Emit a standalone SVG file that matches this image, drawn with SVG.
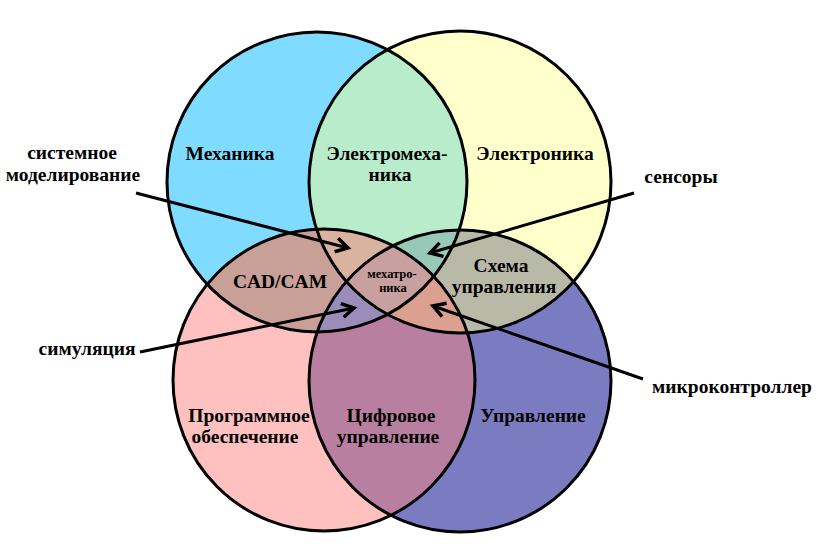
<svg xmlns="http://www.w3.org/2000/svg" width="819" height="547" viewBox="0 0 819 547">
<style>
.lbl{font-family:"Liberation Serif","Times New Roman",serif;font-weight:bold;font-size:19.5px;fill:#000;text-anchor:middle}
.sm{font-size:12.5px}
.ring{fill:none;stroke:#000;stroke-width:3}
.conn{fill:none;stroke:#000;stroke-width:3}
</style>
<defs>
<clipPath id="cB"><circle cx="317" cy="182" r="150"/></clipPath>
<clipPath id="cY"><circle cx="460" cy="182" r="151"/></clipPath>
<clipPath id="cK"><circle cx="324" cy="380" r="151"/></clipPath>
<clipPath id="cU"><circle cx="460" cy="381" r="151"/></clipPath>
<marker id="arr" markerUnits="userSpaceOnUse" markerWidth="30" markerHeight="30" refX="15" refY="15" orient="auto" overflow="visible">
<path d="M3,8 L15,15 L3,22" fill="none" stroke="#000" stroke-width="3.5"/>
</marker>
</defs>
<rect width="819" height="547" fill="#fff"/>
<g id="regions">
<circle cx="317" cy="182" r="150" fill="#7FDBFF"/>
<circle cx="460" cy="182" r="151" fill="#FFFFCC"/>
<circle cx="324" cy="380" r="151" fill="#FFC0C0"/>
<circle cx="460" cy="381" r="151" fill="#7B7BC1"/>
<g clip-path="url(#cB)"><circle cx="460" cy="182" r="151" fill="#B8ECCB"/></g>
<g clip-path="url(#cB)"><circle cx="324" cy="380" r="151" fill="#C8A098"/></g>
<g clip-path="url(#cY)"><circle cx="460" cy="381" r="151" fill="#B9B9A8"/></g>
<g clip-path="url(#cK)"><circle cx="460" cy="381" r="151" fill="#B97FA0"/></g>
<g clip-path="url(#cB)"><g clip-path="url(#cY)"><circle cx="324" cy="380" r="151" fill="#D9B3A0"/></g></g>
<g clip-path="url(#cB)"><g clip-path="url(#cY)"><circle cx="460" cy="381" r="151" fill="#98C8B8"/></g></g>
<g clip-path="url(#cB)"><g clip-path="url(#cK)"><circle cx="460" cy="381" r="151" fill="#9A8DBA"/></g></g>
<g clip-path="url(#cY)"><g clip-path="url(#cK)"><circle cx="460" cy="381" r="151" fill="#DCA090"/></g></g>
<g clip-path="url(#cB)"><g clip-path="url(#cY)"><g clip-path="url(#cK)"><circle cx="460" cy="381" r="151" fill="#C8A0A0"/></g></g></g>
</g>
<g id="mechanics"><circle class="ring" cx="317" cy="182" r="150"/><text class="lbl" x="230" y="160">Механика</text></g>
<g id="electronics"><circle class="ring" cx="460" cy="182" r="151"/><text class="lbl" x="535" y="160">Электроника</text></g>
<g id="software"><circle class="ring" cx="324" cy="380" r="151"/><text class="lbl" x="249" y="422">Программное</text><text class="lbl" x="245" y="443">обеспечение</text></g>
<g id="control"><circle class="ring" cx="460" cy="381" r="151"/><text class="lbl" x="533" y="422">Управление</text></g>
<g id="electromechanics"><text class="lbl" x="387" y="160">Электромеха-</text><text class="lbl" x="390" y="181">ника</text></g>
<g id="cadcam"><text class="lbl" x="280" y="288">CAD/CAM</text></g>
<g id="controlcircuit"><text class="lbl" x="501" y="272">Схема</text><text class="lbl" x="504" y="293">управления</text></g>
<g id="digitalcontrol"><text class="lbl" x="391" y="422">Цифровое</text><text class="lbl" x="388" y="443">управление</text></g>
<g id="mechatronics"><text class="lbl sm" x="392" y="278">мехатро-</text><text class="lbl sm" x="393" y="292">ника</text></g>
<g id="sysmodel"><text class="lbl" x="72" y="159">системное</text><text class="lbl" x="73" y="181">моделирование</text></g>
<g id="sensors"><text class="lbl" x="681" y="183">сенсоры</text></g>
<g id="simulation"><text class="lbl" x="87" y="355">симуляция</text></g>
<g id="microcontroller"><text class="lbl" x="732" y="393">микроконтроллер</text></g>
<g id="connectors">
<line class="conn" x1="136" y1="193" x2="348" y2="248" marker-end="url(#arr)"/>
<line class="conn" x1="634" y1="193" x2="430" y2="253" marker-end="url(#arr)"/>
<line class="conn" x1="140" y1="352" x2="354" y2="308" marker-end="url(#arr)"/>
<line class="conn" x1="643" y1="379" x2="433" y2="306" marker-end="url(#arr)"/>
</g>
</svg>
